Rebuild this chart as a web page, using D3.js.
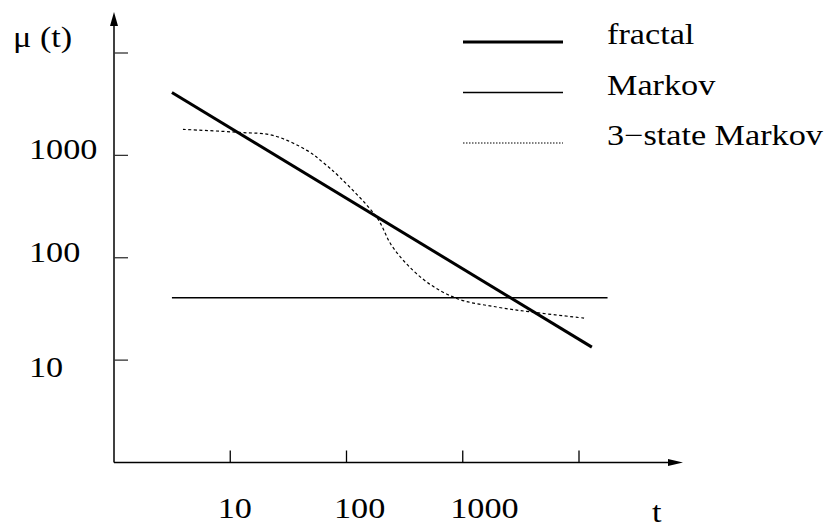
<!DOCTYPE html>
<html>
<head>
<meta charset="utf-8">
<script src="https://cdn.jsdelivr.net/npm/d3@7"></script>
<style>
  body { margin: 0; background: #fff; }
</style>
</head>
<body>
<svg id="chart" width="830" height="529"></svg>
<script>
// decade ticks on both log axes
const xTicks = [10, 100, 1000, 10000]
const xTickLabels = ['10', '100', '1000', '']
const yTicks = [10, 100, 1000, 10000]
const yTickLabels = ['10', '100', '1000', '']

// fractal: straight line on log-log
const fractalT = [3.15, 12900]
const fractalMu = [4120, 13.4]

// Markov: constant
const markovT = [3.15, 17600]
const markovMu = [40.7, 40.7]

// 3-state Markov
const threeStateT = [3.92, 12.1, 23.3, 45.6, 62.7, 87.7, 182, 251, 454, 889, 1963, 4010, 11220]
const threeStateMu = [1795, 1676, 1567, 1119, 855, 610, 248, 126, 62, 40, 33, 29.4, 25.7]

const legendNames = ['fractal', 'Markov', '3\u2212state Markov']

const svg = d3.select('svg#chart')
const stretch = 1.18
const serif = '"Liberation Serif", Tinos, "Times New Roman", Times, "DejaVu Serif", serif'

const x = d3.scaleLog().domain([1, 10000]).range([114, 579])
const y = d3.scaleLog().domain([1, 10000]).range([462.5, 53])

function label(txt, px, py, anchor) {
  const t = svg.append('text')
    .attr('transform', `translate(${px},${py}) scale(${stretch},1)`)
    .attr('font-family', serif)
    .attr('font-size', 29)
    .attr('fill', '#000')
    .text(txt)
  if (anchor) t.attr('text-anchor', anchor)
  return t
}

// axes
const x0 = x(1), y0 = y(1)
svg.append('line')
  .attr('x1', x0).attr('x2', 670).attr('y1', y0).attr('y2', y0)
  .attr('stroke', '#000').attr('stroke-width', 1.5)
svg.append('line')
  .attr('x1', x0).attr('x2', x0).attr('y1', y0).attr('y2', 24)
  .attr('stroke', '#000').attr('stroke-width', 1.5)
svg.append('path')
  .attr('d', `M${x0},12 L${x0 - 4},26 L${x0 + 4},26 Z`)
  .attr('fill', '#000')
svg.append('path')
  .attr('d', `M683,${y0} L668,${y0 - 3.5} L668,${y0 + 3.5} Z`)
  .attr('fill', '#000')

// ticks
svg.append('g').selectAll('line')
  .data(xTicks)
  .enter()
    .append('line')
      .attr('x1', d => x(d)).attr('x2', d => x(d))
      .attr('y1', y0).attr('y2', y0 - 12)
      .attr('stroke', '#000').attr('stroke-width', 1.3)

svg.append('g').selectAll('line')
  .data(yTicks)
  .enter()
    .append('line')
      .attr('x1', x0).attr('x2', x0 + 14)
      .attr('y1', d => y(d)).attr('y2', d => y(d))
      .attr('stroke', '#333').attr('stroke-width', 1.3)

xTicks.forEach((d, i) => label(xTickLabels[i], x(d) - 12.5, 518))
yTicks.forEach((d, i) => label(yTickLabels[i], 29, y(d) + (d === 10 ? 17 : 4)))

label('\u03bc (t)', 13, 47)
label('t', 652, 522)

// series
const line = d3.line().x(d => x(d[0])).y(d => y(d[1]))
const smooth = d3.line().x(d => x(d[0])).y(d => y(d[1])).curve(d3.curveCatmullRom)

svg.append('path')
  .datum(d3.zip(fractalT, fractalMu))
  .attr('d', line)
  .attr('fill', 'none').attr('stroke', '#000').attr('stroke-width', 3)

svg.append('path')
  .datum(d3.zip(markovT, markovMu))
  .attr('d', line)
  .attr('fill', 'none').attr('stroke', '#000').attr('stroke-width', 1.5)

svg.append('path')
  .datum(d3.zip(threeStateT, threeStateMu))
  .attr('d', smooth)
  .attr('fill', 'none').attr('stroke', '#000').attr('stroke-width', 1.2)
  .attr('stroke-dasharray', '3,2.5')

// legend
const legendStyles = [
  { w: 3, dash: null },
  { w: 1.5, dash: null },
  { w: 1.2, dash: '1.5,1.5' }
]
const legend = svg.append('g')
legendNames.forEach((name, i) => {
  const ly = 42 + i * 50.5
  const l = legend.append('line')
    .attr('x1', 463).attr('x2', 563).attr('y1', ly).attr('y2', ly)
    .attr('stroke', '#000').attr('stroke-width', legendStyles[i].w)
  if (legendStyles[i].dash) l.attr('stroke-dasharray', legendStyles[i].dash)
  label(name, 607, ly + 2)
})
</script>
</body>
</html>
